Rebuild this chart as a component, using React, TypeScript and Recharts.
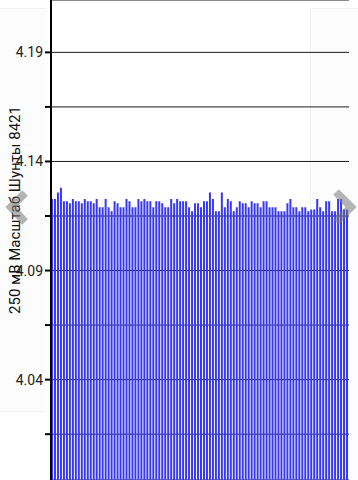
import { BarChart, Bar, XAxis, YAxis, CartesianGrid, Label } from "recharts";

const AXIS_LABEL = "250 мВ Масштаб  Шунты 8421";

const Y_DOMAIN = [3.994, 4.214];
const Y_TICKS = [4.015, 4.04, 4.065, 4.09, 4.115, 4.14, 4.165, 4.19];
const Y_LABELED = ["4.04", "4.09", "4.14", "4.19"];

const VOLTAGES = [
  4.1228, 4.1228, 4.1258, 4.128, 4.1218, 4.1218, 4.1208, 4.1228, 4.1218, 4.1218,
  4.1208, 4.1228, 4.1218, 4.1218, 4.1208, 4.1228, 4.119, 4.119, 4.1228, 4.119,
  4.1172, 4.1218, 4.1208, 4.119, 4.119, 4.1228, 4.1218, 4.119, 4.119, 4.1228,
  4.1218, 4.1228, 4.1218, 4.1218, 4.119, 4.1218, 4.1218, 4.1208, 4.119, 4.119,
  4.1228, 4.1208, 4.1228, 4.1218, 4.1218, 4.1218, 4.119, 4.1172, 4.1208, 4.1208,
  4.119, 4.1218, 4.1218, 4.1258, 4.1228, 4.1172, 4.1172, 4.1258, 4.119, 4.1228,
  4.1218, 4.1172, 4.119, 4.1218, 4.1208, 4.1208, 4.119, 4.1218, 4.1208, 4.1208,
  4.119, 4.1218, 4.1218, 4.119, 4.119, 4.119, 4.1172, 4.1172, 4.1172, 4.1208,
  4.1228, 4.119, 4.119, 4.1172, 4.119, 4.119, 4.1172, 4.118, 4.118, 4.1228,
  4.119, 4.1172, 4.1218, 4.1218, 4.1172, 4.1172, 4.1228, 4.1228, 4.118, 4.118,
];

const data = VOLTAGES.map((v, i) => ({ cell: i + 1, v }));

function Chevron({ points }: { points: string }) {
  return (
    <polyline
      points={points}
      fill="none"
      stroke="rgba(120,120,120,0.55)"
      strokeWidth={8}
      strokeLinecap="butt"
      strokeLinejoin="miter"
    />
  );
}

export default function App() {
  return (
    <div style={{ position: "absolute", left: 0, top: 0, width: 358, height: 480, overflow: "hidden", background: "#fff" }}>
      {/* faint side panels */}
      <div style={{ position: "absolute", left: 0, top: 8, width: 46, height: 402, background: "#fcfcfc", borderTop: "1px solid #f2f2f2", borderBottom: "1px solid #f2f2f2" }} />
      <div style={{ position: "absolute", left: 310, top: 8, width: 48, height: 472, background: "#fcfcfc", borderTop: "1px solid #f2f2f2", borderLeft: "1px solid #f2f2f2" }} />
      <div style={{ position: "absolute", left: 0, top: 0 }}>
        <BarChart
          width={358}
          height={480}
          data={data}
          margin={{ top: 0, right: 9, bottom: 0, left: 0 }}
          barSize={2}
        >
          <CartesianGrid vertical={false} stroke="#000" strokeOpacity={0.9} />
          <XAxis dataKey="cell" hide />
          <YAxis
            width={51}
            domain={Y_DOMAIN}
            allowDataOverflow
            ticks={Y_TICKS}
            interval={0}
            tickFormatter={(t: number) => {
              const s = t.toFixed(2);
              return Y_LABELED.includes(s) && Math.abs(t - Number(s)) < 1e-6 ? s : "";
            }}
            tick={{ fontSize: 14, fill: "#222", fontFamily: "Roboto" }}
            tickLine={{ stroke: "#000", strokeWidth: 2 }}
            tickSize={6}
            axisLine={{ stroke: "#000", strokeWidth: 2 }}
          >
            <Label
              content={() => (
                <text
                  x={20}
                  y={210}
                  transform="rotate(-90 20 210)"
                  textAnchor="middle"
                  fontSize={15}
                  fontFamily="Roboto"
                  fill="#111"
                >
                  {AXIS_LABEL}
                </text>
              )}
            />
          </YAxis>
          <Bar dataKey="v" fill="#3838f0" isAnimationActive={false} />
        </BarChart>
      </div>
      <svg width={358} height={480} style={{ position: "absolute", left: 0, top: 0, pointerEvents: "none" }}>
        <Chevron points="25,193 11,207 25,222" />
        <Chevron points="336,192 351,207 336,222" />
      </svg>
    </div>
  );
}
